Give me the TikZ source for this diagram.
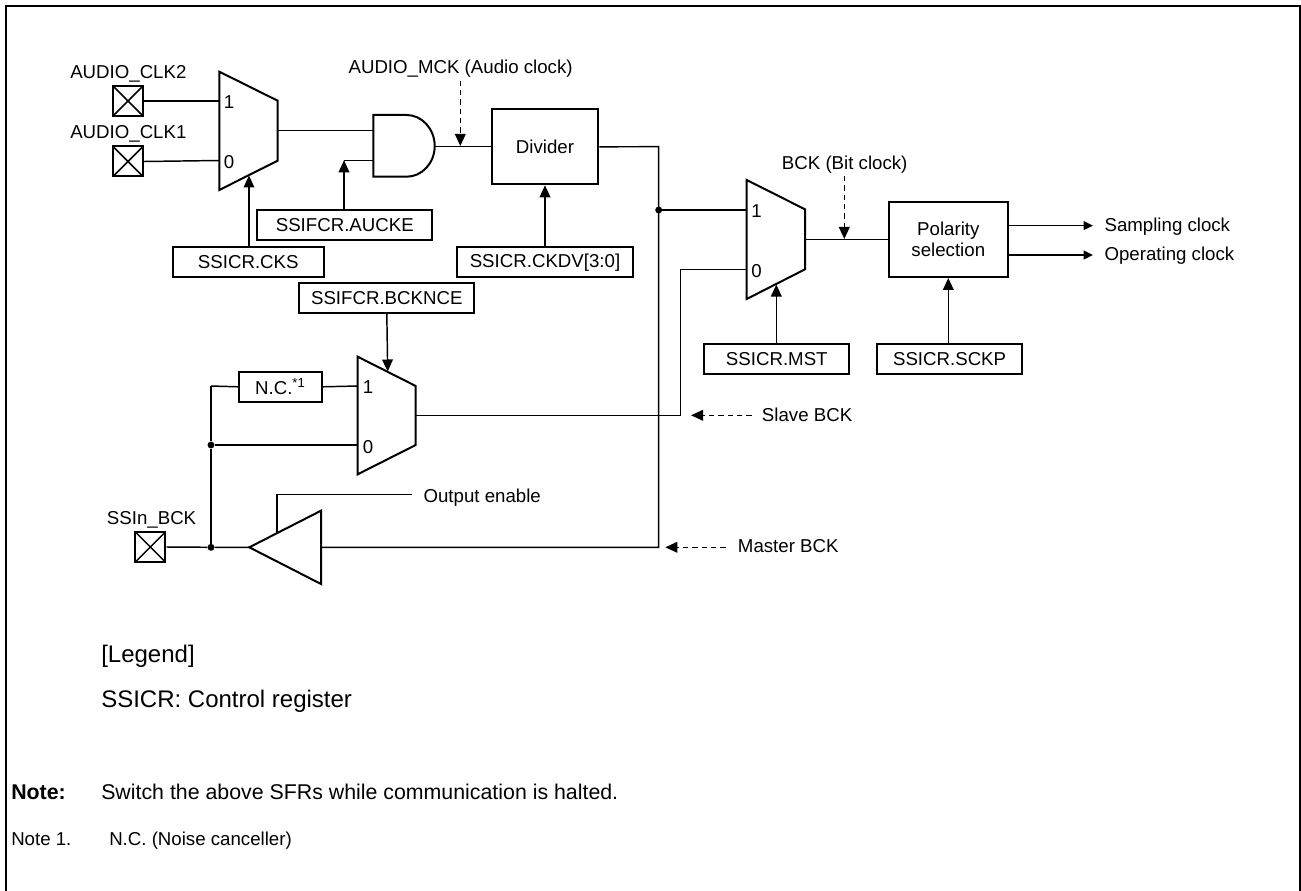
\documentclass[tikz,border=0pt]{standalone}
\usepackage{fontspec}
\setmainfont{Liberation Sans}
\usepackage{tikz}
\usetikzlibrary{arrows.meta}
\tikzset{
	wire/.style={line width=1.1pt},
	sigarrow/.style={wire,-{Triangle[length=9pt,width=8pt]}},
	smallarrow/.style={wire,-{Triangle[length=7pt,width=6.5pt]}},
	dasharrow/.style={wire,dash pattern=on 4pt off 3pt,-{Triangle[length=9pt,width=8pt]}},
	shapeline/.style={line width=1.5pt,line join=miter},
	regbox/.style={draw,line width=1.5pt,minimum width=#1,minimum height=22.5pt,inner sep=0pt,font=\fontsize{14}{16}\selectfont},
	blockbox/.style={draw,line width=1.5pt,inner sep=0pt,font=\fontsize{14}{16.2}\selectfont,align=center},
	padbox/.style={draw,line width=1.5pt,minimum size=22.5pt,inner sep=0pt,path picture={\draw[line width=1.1pt] (path picture bounding box.south west) -- (path picture bounding box.north east) (path picture bounding box.north west) -- (path picture bounding box.south east);}},
	junction/.style={circle,fill=black,minimum size=5.2pt,inner sep=0pt},
	lbl/.style={inner sep=0pt,anchor=base west,font=\fontsize{14}{16}\selectfont},
	legendlbl/.style={inner sep=0pt,anchor=base west,font=\fontsize{18}{20}\selectfont},
	pinlbl/.style={inner sep=0pt,font=\fontsize{14}{16}\selectfont}
}
\begin{document}
\begin{tikzpicture}[x=0.75pt,y=-0.75pt]
	\useasboundingbox (0,0) rectangle (1301,891);
	\draw[line width=1.5pt] (6,891) -- (6,6) -- (1299.5,6) -- (1299.5,891);

	\node[padbox] (padtwo) at (128,101) {};
	\node[padbox] (padone) at (128,161.5) {};
	\node[padbox] (padbck) at (150.3,547) {};
	\node[lbl] (lblclktwo) at (70,78.3) {AUDIO\_CLK2};
	\node[lbl] (lblclkone) at (70,138.3) {AUDIO\_CLK1};
	\node[lbl] (lblbck) at (106.7,524.3) {SSIn\_BCK};

	\draw[shapeline] (219.3,71.7) -- (277.7,100.7) -- (277.7,160.7) -- (219.3,190) -- cycle;
	\coordinate (muxaone) at (219.3,101);
	\coordinate (muxazero) at (219.3,160.5);
	\coordinate (muxaout) at (277.7,130.7);
	\coordinate (muxasel) at (249,175.5);
	\node[pinlbl] (lblaone) at (229,102) {1};
	\node[pinlbl] (lblazero) at (229,162) {0};

	\draw[shapeline] (373.3,115) -- (406.7,115) .. controls (422,115) and (434.7,129) .. (434.7,146) .. controls (434.7,163) and (422,176.7) .. (406.7,176.7) -- (373.3,176.7) -- cycle;
	\coordinate (andone) at (373.3,130.7);
	\coordinate (andtwo) at (373.3,160.3);
	\coordinate (andcorner) at (344,160.3);
	\coordinate (andout) at (434.7,146.5);

	\node[blockbox,minimum width=80pt,minimum height=56.2pt] (divider) at (545,146.8) {Divider};
	\node[regbox=113.5pt] (boxcks) at (248.3,262.3) {SSICR.CKS};
	\node[regbox=131.2pt] (boxaucke) at (344.8,225) {SSIFCR.AUCKE};
	\node[regbox=131.5pt] (boxckdv) at (545,262.3) {SSICR.CKDV[3:0]};
	\node[regbox=131.2pt] (boxbcknce) at (386.8,297.8) {SSIFCR.BCKNCE};
	\node[regbox=62pt] (boxnc) at (280.3,386.8) {N.C.\textsuperscript{*1}};
	\node[regbox=108.7pt] (boxmst) at (776.8,359) {SSICR.MST};
	\node[regbox=109pt] (boxsckp) at (949.6,359) {SSICR.SCKP};
	\node[blockbox,minimum width=89pt,minimum height=56.2pt] (polarity) at (948.3,239.5) {Polarity\\selection};

	\draw[shapeline] (746.7,180) -- (805,209.3) -- (805,269.3) -- (746.7,299) -- cycle;
	\coordinate (muxbone) at (746.7,210);
	\coordinate (muxbzero) at (746.7,269.3);
	\coordinate (muxbout) at (805,239.3);
	\coordinate (muxbsel) at (776.3,284.5);
	\node[pinlbl] (lblbone) at (756.5,211) {1};
	\node[pinlbl] (lblbzero) at (756.5,271) {0};

	\draw[shapeline] (357.7,356.7) -- (415.7,386) -- (415.7,445) -- (357.7,474.3) -- cycle;
	\coordinate (muxcone) at (357.7,386);
	\coordinate (muxczero) at (357.7,445);
	\coordinate (muxcout) at (415.7,415.3);
	\coordinate (muxcsel) at (387.7,371.5);
	\node[pinlbl] (lblcone) at (368,387) {1};
	\node[pinlbl] (lblczero) at (368,447) {0};

	\draw[shapeline] (249.3,547.3) -- (321,510.7) -- (321,584) -- cycle;
	\coordinate (bufftip) at (249.3,547.3);
	\coordinate (buffin) at (321,547.3);
	\coordinate (buffen) at (277,532.8);
	\coordinate (enend) at (412,494.3);

	\node[junction] (dotdiv) at (658.7,210) {};
	\node[junction] (dotmid) at (211,445) {};
	\node[junction] (dotpad) at (211,547.3) {};
	\coordinate (ncleft) at (211,386);
	\coordinate (slavecorner) at (680.7,269.3);
	\coordinate (divcorner) at (658.7,146.7);
	\coordinate (mastercorner) at (658.7,547.3);

	\draw[wire] (padtwo.east) -- (muxaone);
	\draw[wire] (padone.east) -- (muxazero);
	\draw[wire] (muxaout) -- (andone);
	\draw[wire] (andcorner) -- (andtwo);
	\draw[sigarrow] (boxaucke.north -| andcorner) -- (andcorner);
	\draw[sigarrow] (boxcks.north -| muxasel) -- (muxasel);
	\draw[wire] (andout) -- (divider.west |- andout);
	\draw[sigarrow] (boxckdv.north) -- (divider.south);
	\draw[wire] (divider.east) -- (divcorner) -- (mastercorner) -- (buffin);
	\draw[wire] (dotdiv) -- (muxbone);
	\draw[wire] (muxcout) -| (slavecorner) -- (muxbzero);
	\draw[wire] (muxbout) -- (polarity.west |- muxbout);
	\draw[sigarrow] (boxmst.north -| muxbsel) -- (muxbsel);
	\draw[sigarrow] (boxsckp.north -| polarity.south) -- (polarity.south);
	\draw[sigarrow] (boxbcknce.south) -- (muxcsel);
	\draw[wire] (ncleft) -- (boxnc.west);
	\draw[wire] (boxnc.east) -- (muxcone);
	\draw[wire] (ncleft) -- (dotmid) -- (dotpad);
	\draw[wire] (dotmid) -- (muxczero);
	\draw[wire] (padbck.east) -- (dotpad) -- (bufftip);
	\draw[wire] (buffen) |- (enend);

	\node[lbl] (lblen) at (423.3,502.7) {Output enable};
	\node[lbl] (lblmck) at (348.3,73.3) {AUDIO\_MCK (Audio clock)};
	\node[lbl] (lblbit) at (781.7,169.3) {BCK (Bit clock)};
	\coordinate (mcktop) at (460.3,80.7);
	\coordinate (mcktip) at (460.3,146);
	\coordinate (bittop) at (844.3,176);
	\coordinate (bittip) at (844.3,239);
	\draw[dasharrow] (mcktop) -- (mcktip);
	\draw[dasharrow] (bittop) -- (bittip);

	\node[lbl] (lblslave) at (761.7,421) {Slave BCK};
	\node[lbl] (lblmaster) at (737.7,552.3) {Master BCK};
	\coordinate (slavetail) at (751.7,415.3);
	\coordinate (slavetip) at (691,415.3);
	\coordinate (mastertail) at (725.7,547.3);
	\coordinate (mastertip) at (665.3,547.3);
	\draw[dasharrow] (slavetail) -- (slavetip);
	\draw[dasharrow] (mastertail) -- (mastertip);

	\node[lbl] (lblsampling) at (1104.3,231) {Sampling clock};
	\node[lbl] (lbloperating) at (1104.3,260.5) {Operating clock};
	\coordinate (samplingtip) at (1093,225.6);
	\coordinate (operatingtip) at (1093,255);
	\draw[smallarrow] (polarity.east |- samplingtip) -- (samplingtip);
	\draw[smallarrow] (polarity.east |- operatingtip) -- (operatingtip);

	\node[legendlbl] (lbllegend) at (101,662.7) {[Legend]};
	\node[legendlbl] (lblreg) at (101,707.7) {SSICR: Control register};
	\node[legendlbl,font=\fontsize{16}{20}\bfseries\selectfont] (lblnote) at (11,799) {Note:};
	\node[legendlbl,font=\fontsize{16}{20}\selectfont] (lblswitch) at (101,799) {Switch the above SFRs while communication is halted.};
	\node[lbl] (lblnoteone) at (11,845) {Note 1.};
	\node[lbl] (lblnc) at (109,845) {N.C. (Noise canceller)};
\end{tikzpicture}
\end{document}
